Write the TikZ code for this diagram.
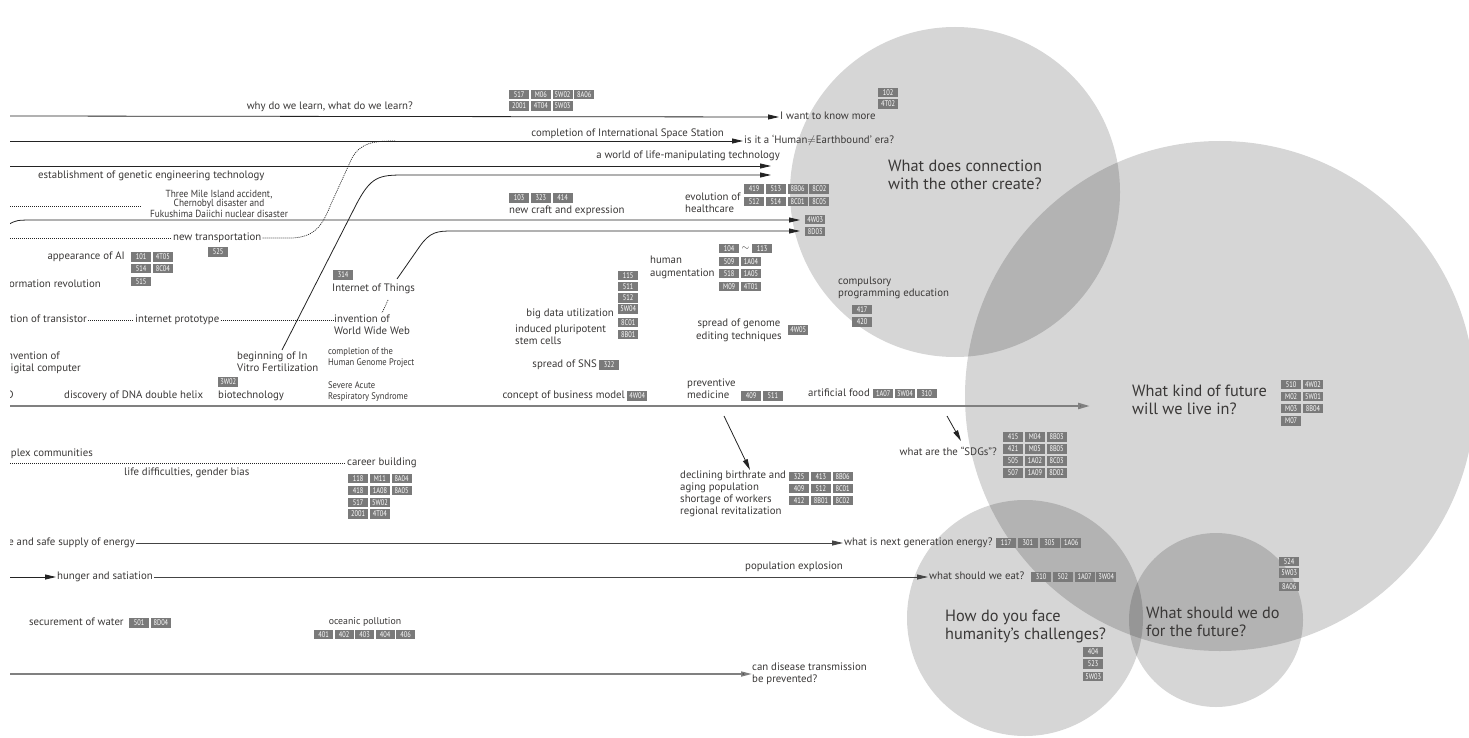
\documentclass[tikz,border=0pt]{standalone}
\usepackage{fontspec}
\setmainfont{PT Sans}
\newfontfamily\condfont[FakeStretch=0.9]{PT Sans}
\newfontfamily\tagfont[FakeStretch=0.78]{PT Sans}
\usetikzlibrary{arrows.meta}
\definecolor{txt}{RGB}{58,56,55}
\definecolor{ln}{RGB}{35,35,35}
\definecolor{tl}{RGB}{128,128,128}
\definecolor{tagfill}{RGB}{122,122,122}
\tikzset{
  circ/.style={fill=black, fill opacity=0.16},
  lbl/.style={font=\fontsize{10.8}{12}\selectfont, text=txt, inner sep=1pt, text height=7.8pt, text depth=2.3pt, anchor=west},
  mlbl/.style={font=\fontsize{10.8}{12}\selectfont, text=txt, inner sep=0pt, align=left, anchor=north west},
  clbl/.style={font=\condfont\fontsize{9.5}{11.3}\selectfont, text=txt, inner sep=0pt, align=left, anchor=north west},
  big/.style={font=\fontsize{16.3}{18.5}\selectfont, text=txt, inner sep=0pt, align=left, anchor=north west},
  tagbox/.style={fill=tagfill, text=white, font=\tagfont\fontsize{8.2}{8.2}\selectfont, minimum width=20pt, minimum height=9.5pt, inner sep=0pt, anchor=west},
  arr/.style={draw=ln, line width=0.8pt, -{Triangle[length=11pt,width=5pt]}},
  dotl/.style={draw=ln, line width=0.7pt, dash pattern=on 1pt off 1pt},
  tline/.style={draw=tl, line width=2.2pt, -{Triangle[length=12pt,width=6pt,fill=ln]}},
}
\newcommand\tagrow[4]{\foreach \t [count=\i from 0] in {#4}{\node[tagbox] (#1\i) at ({#2+\i*21.7},#3) {\t};}}
\begin{document}
\begin{tikzpicture}[x=1pt,y=-1pt]
\path[use as bounding box] (0,0) rectangle (1469,738);
\fill[white] (0,0) rectangle (1469,738);
% circles
\fill[circ] (955,192) circle[radius=165pt];
\fill[circ] (1220,396) circle[radius=255pt];
\fill[circ] (1025,618) circle[radius=118pt];
\fill[circ] (1216,620) circle[radius=87pt];

\begin{scope}
\clip (10,0) rectangle (1469,738);
% ---- labels ----
\node[lbl, anchor=east] (learn) at (414,107) {why do we learn, what do we learn?};
\node[lbl] (want) at (779,117) {I want to know more};
\node[lbl, anchor=east] (iss) at (725,134) {completion of International Space Station};
\node[lbl] (earth) at (743,141) {is it a ‘Human$\neq$Earthbound’ era?};
\node[lbl, anchor=east] (lifeman) at (781,156) {a world of life-manipulating technology};
\node[lbl] (genetic) at (37,176) {establishment of genetic engineering technology};
\node[font=\condfont\fontsize{10.3}{9}\selectfont, text=txt, align=center, inner sep=0pt] (tmi) at (219,204) {Three Mile Island accident,\\Chernobyl disaster and\\Fukushima Daiichi nuclear disaster};
\node[lbl] (craft) at (508,211) {new craft and expression};
\node[mlbl, font=\fontsize{10.8}{11.5}\selectfont] (health) at (685,192.9) {evolution of\\healthcare};
\node[lbl] (transp) at (172,238) {new transportation};
\node[lbl, anchor=east] (ai) at (126,257) {appearance of AI};
\node[lbl, anchor=east] (info) at (102,285) {ormation revolution};
\node[lbl] (iot) at (331,289) {Internet of Things};
\node[lbl, anchor=east] (transis) at (88,320) {ntion of transistor};
\node[lbl] (proto) at (134,320) {internet prototype};
\node[mlbl, font=\fontsize{10.8}{11.5}\selectfont] (www) at (334,314.9) {invention of\\World Wide Web};
\node[lbl, anchor=east] (dig1) at (61,357) {nvention of};
\node[lbl, anchor=east] (dig2) at (82,369) {igital computer};
\node[mlbl] (ivf) at (237,351.9) {beginning of In\\Vitro Fertilization};
\node[clbl] (hgp) at (328,347.6) {completion of the\\Human Genome Project};
\node[clbl, font=\condfont\fontsize{9.5}{11}\selectfont] (sars) at (328,381.6) {Severe Acute\\Respiratory Syndrome};
\node[lbl, anchor=east] (dcut) at (15,396) {D};
\node[lbl] (dna) at (63,396) {discovery of DNA double helix};
\node[lbl] (biotech) at (217,396) {biotechnology};
\node[lbl, anchor=east] (bigdata) at (615,314) {big data utilization};
\node[mlbl] (ips) at (515,324.9) {induced pluripotent\\stem cells};
\node[lbl, anchor=east] (sns) at (598,365) {spread of SNS};
\node[lbl, anchor=east] (biz) at (626,396) {concept of business model};
\node[mlbl] (prevent) at (687,378.9) {preventive\\medicine};
\node[lbl, anchor=east] (food) at (871,394) {artificial food};
\node[mlbl, font=\fontsize{10.8}{12.5}\selectfont] (humaug) at (650,255.9) {human\\augmentation};
\node[mlbl, align=center, font=\fontsize{10.8}{13}\selectfont] (genome) at (696,318.9) {spread of genome\\ editing techniques};
\node[mlbl, font=\fontsize{10.8}{11.5}\selectfont] (compuls) at (838,276.9) {compulsory\\programming education};
\node[lbl, anchor=east] (plex) at (94,454) {plex communities};
\node[lbl] (career) at (346,463) {career building};
\node[lbl] (lifediff) at (123,473) {life difficulties, gender bias};
\node[mlbl, font=\fontsize{10.8}{11.8}\selectfont] (declin) at (680,470.9) {declining birthrate and\\aging population\\shortage of workers\\regional revitalization};
\node[lbl, anchor=east] (sdgs) at (998,453) {what are the “SDGs”?};
\node[lbl, anchor=east] (energy) at (136,543) {e and safe supply of energy};
\node[lbl] (nextgen) at (843,543) {what is next generation energy?};
\node[lbl] (hunger) at (56,577) {hunger and satiation};
\node[lbl] (popexp) at (744,567) {population explosion};
\node[lbl] (eat) at (928,577) {what should we eat?};
\node[lbl] (water) at (28,623) {securement of water};
\node[lbl, font=\fontsize{9.8}{11}\selectfont, anchor=center] (ocean) at (365,622) {oceanic pollution};
\node[mlbl] (disease) at (752,662.9) {can disease transmission\\be prevented?};

% big questions
\node[big] (conn) at (888,159.6) {What does connection\\with the other create?};
\node[big] (future) at (1132,384.6) {What kind of future\\will we live in?};
\node[big] (face) at (945,609.6) {How do you face\\humanity's challenges?};
\node[big] (dofut) at (1146,606.6) {What should we do\\for the future?};

% ---- tags ----
\tagrow{ta}{509}{94.5}{517,M06,5W02,8A06}
\tagrow{tb}{509}{106}{2001,4T04,5W03}
\tagrow{tc}{878}{92.5}{102}
\tagrow{td}{878}{104}{4T02}
\tagrow{te}{509}{198}{103,323,414}
\tagrow{tf}{744}{189}{419,513,8B06,8C02}
\tagrow{tg}{744}{201.5}{512,514,8C01,8C05}
\tagrow{th}{805}{219.5}{4W03}
\tagrow{ti}{805}{231.5}{8D03}
\tagrow{tj}{208}{252}{525}
\tagrow{tk}{131}{257}{101,4T05}
\tagrow{tl}{131}{268.5}{514,8C04}
\tagrow{tm}{131}{281.5}{515}
\tagrow{tn}{719}{248.5}{104}
\node[text=txt, inner sep=0pt, minimum size=6pt] (tilde) at (745.5,248.5) {$\sim$};
\tagrow{to}{752}{248.5}{113}
\tagrow{tp}{719}{261.5}{509,1A04}
\tagrow{tq}{719}{273.5}{518,1A05}
\tagrow{tr}{719}{286.5}{M09,4T01}
\tagrow{ts}{618}{275.5}{115}
\tagrow{tt}{618}{286.5}{511}
\tagrow{tu}{618}{298}{512}
\tagrow{tv}{618}{309}{5W04}
\tagrow{tw}{618}{322.5}{8C01}
\tagrow{tx}{618}{334.5}{8B01}
\tagrow{ty}{333}{275}{314}
\tagrow{tz}{218}{382}{3W02}
\tagrow{sa}{599}{365}{322}
\tagrow{sb}{627}{396}{4W04}
\tagrow{sc}{741}{396}{409,511}
\tagrow{sd}{873}{393.5}{1A07,3W04,310}
\tagrow{se}{788}{330}{4W05}
\tagrow{sf}{852}{309.5}{417}
\tagrow{sg}{852}{322}{420}
\tagrow{sh}{1281}{384.5}{510,4W02}
\tagrow{si}{1281}{396.5}{M02,5W01}
\tagrow{sj}{1281}{408.5}{M03,8B04}
\tagrow{sk}{1281}{421}{M07}
\tagrow{sl}{348}{478.5}{118,M11,8A04}
\tagrow{sm}{348}{490.5}{418,1A08,8A05}
\tagrow{sn}{348}{502.5}{517,5W02}
\tagrow{so}{348}{514}{2001,4T04}
\tagrow{sp}{789}{476.5}{325,413,8B06}
\tagrow{sq}{789}{488.5}{409,512,8C01}
\tagrow{sr}{789}{500.5}{412,8B01,8C02}
\tagrow{ss}{1003}{437}{415,M04,8B03}
\tagrow{st}{1003}{449}{421,M05,8B05}
\tagrow{su}{1003}{461}{505,1A02,8C03}
\tagrow{sv}{1003}{473}{507,1A09,8D02}
\tagrow{sw}{996}{543}{117,301,305,1A06}
\tagrow{sx}{1031}{577}{310,502,1A07,3W04}
\tagrow{sy}{129}{623}{501,8D04}
\foreach \t [count=\i from 0] in {401,402,403,404,406}{\node[tagbox, minimum width=19pt] (oc\i) at ({314+\i*20.5},634.5) {\t};}
\tagrow{ua}{1083}{652}{404}
\tagrow{ub}{1083}{664}{523}
\tagrow{uc}{1083}{676.5}{5W03}
\tagrow{ud}{1279}{561.5}{524}
\tagrow{ue}{1279}{573}{5W03}
\tagrow{uf}{1279}{586.5}{8A06}

% ---- coordinates ----
\coordinate (a0) at (10,116);
\coordinate (b0) at (10,141);
\coordinate (bj) at (395,141);
\coordinate (c0) at (10,166);
\coordinate (c1) at (771,166);
\coordinate (d0) at (282,350);
\coordinate (d1) at (771,175);
\coordinate (e0) at (8,225);
\coordinate (e1) at (800,220);
\coordinate (f0) at (397,279);
\coordinate (f1) at (800,231);
\coordinate (g0) at (10,206);
\coordinate (g1) at (142,206);
\coordinate (h0) at (10,238);
\coordinate (k0) at (388,300);
\coordinate (k1) at (382,313);
\coordinate (w1) at (333,320);
\coordinate (m0) at (10,406);
\coordinate (m1) at (1090,406);
\coordinate (n0) at (724,416);
\coordinate (n1) at (750,470);
\coordinate (p0) at (947,416);
\coordinate (p1) at (961,441);
\coordinate (q0) at (10,463);
\coordinate (r0) at (10,577);
\coordinate (v0) at (10,674);

% ---- connectors ----
\draw[arr] (a0) -- (want.west);
\draw[arr] (b0) -- (earth.west);
\draw[dotl] (transp.east) -- (292,238) .. controls (316,237) and (323,224) .. (331,204) -- (352,158) .. controls (361,142) and (375,141) .. (bj);
\draw[arr] (c0) -- (c1);
\draw[arr] (d0) -- (356,205) .. controls (371,176) and (379,175) .. (405,175) -- (d1);
\draw[arr] (e0) .. controls (16,220) .. (38,220) -- (e1);
\draw[arr] (f0) -- (420,246) .. controls (430,232) and (437,231) .. (452,231) -- (f1);
\draw[dotl] (g0) -- (g1);
\draw[dotl] (h0) -- (transp.west);
\draw[dotl] (k0) -- (k1);
\draw[dotl] (transis.east) -- (proto.west);
\draw[dotl] (proto.east) -- (w1);
\draw[tline] (m0) -- (m1);
\draw[arr] (n0) -- (n1);
\draw[arr] (p0) -- (p1);
\draw[dotl] (q0) -- (career.west);
\draw[arr, draw=ln!85] (energy.east) -- (nextgen.west);
\draw[arr] (r0) -- (hunger.west);
\draw[arr, draw=ln!85] (hunger.east) -- (eat.west);
\draw[draw=tl, line width=1.6pt, -{Triangle[length=11pt,width=5pt,fill=ln]}] (v0) -- (disease.west);
\end{scope}
\end{tikzpicture}
\end{document}
